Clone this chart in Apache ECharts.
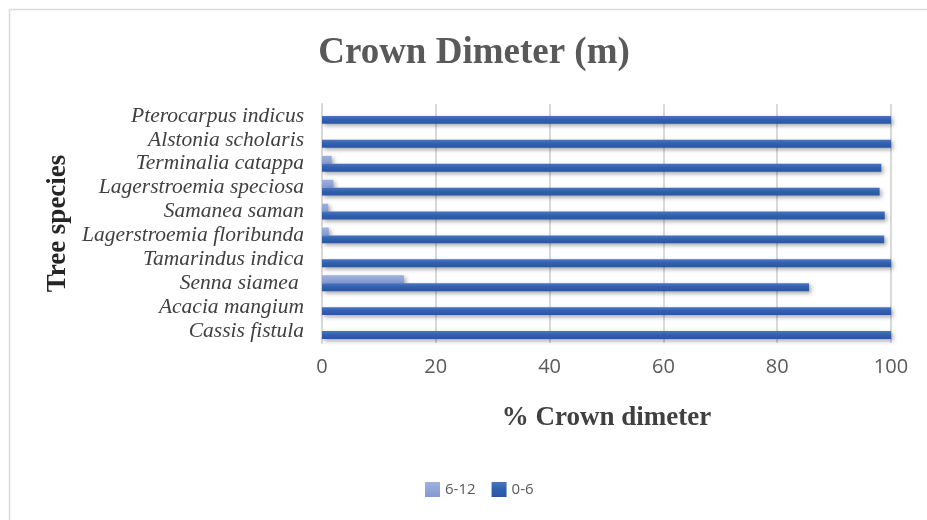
<!DOCTYPE html>
<html>
<head>
<meta charset="utf-8">
<script src="https://cdn.jsdelivr.net/npm/echarts@6/dist/echarts.min.js"></script>
<style>
html,body{margin:0;padding:0;background:#fff;}
#chart{width:927px;height:520px;}
</style>
</head>
<body>
<div id="chart"></div>
<script>
const categories = ['Cassis fistula','Acacia mangium','Senna siamea ','Tamarindus indica','Lagerstroemia floribunda','Samanea saman','Lagerstroemia speciosa','Terminalia catappa','Alstonia scholaris','Pterocarpus indicus'];
const values0to6 = [100, 100, 85.6, 100, 98.8, 98.9, 98, 98.3, 100, 100];
const values6to12 = [0, 0, 14.4, 0, 1.2, 1.1, 2, 1.7, 0, 0];
const xTicks = [0, 20, 40, 60, 80, 100];

const chart = echarts.init(document.getElementById('chart'), null, {renderer:'canvas'});
const serif = '"Liberation Serif", "Times New Roman", serif';
const sans = '"Open Sans", "Liberation Sans", sans-serif';
const shadow = {shadowColor:'rgba(0,0,0,0.35)', shadowBlur:4, shadowOffsetX:2, shadowOffsetY:2};
chart.setOption({
  animation:false,
  backgroundColor:'#fff',
  title:{text:'Crown Dimeter (m)', left:469, top:30, textAlign:'center',
    textStyle:{fontFamily:serif, fontWeight:'bold', fontSize:37, color:'#595959'}},
  graphic:[
    {type:'line', shape:{x1:9.5,y1:9.5,x2:927,y2:9.5}, style:{stroke:'#d9d9d9', lineWidth:1.5}},
    {type:'line', shape:{x1:9.5,y1:9.5,x2:9.5,y2:520}, style:{stroke:'#d9d9d9', lineWidth:1.5}}
  ],
  legend:{data:['6-12','0-6'], left:420, top:477, itemWidth:15, itemHeight:15, itemGap:16,
    icon:'rect', textStyle:{fontFamily:sans, fontSize:15, color:'#595959'}},
  grid:{left:322, right:36, top:104, bottom:177},
  xAxis:{type:'value', min:xTicks[0], max:xTicks[xTicks.length-1], interval:20,
    axisLine:{show:false}, axisTick:{show:false},
    splitLine:{lineStyle:{color:'#d9d9d9', width:2}},
    axisLabel:{fontFamily:sans, fontSize:20, color:'#595959', margin:14},
    name:'% Crown dimeter', nameLocation:'middle', nameGap:62,
    nameTextStyle:{fontFamily:serif, fontWeight:'bold', fontSize:27, color:'#404040'}},
  yAxis:{type:'category', data:categories,
    axisLine:{show:true, lineStyle:{color:'#d9d9d9', width:2}}, axisTick:{show:false},
    axisLabel:{interval:0, fontFamily:serif, fontStyle:'italic', fontSize:21.5, color:'#404040', margin:18},
    name:'Tree species', nameLocation:'middle', nameGap:248, nameRotate:90,
    nameTextStyle:{fontFamily:serif, fontWeight:'bold', fontSize:27, color:'#262626'}},
  series:[
    {name:'6-12', type:'bar', data:values6to12, barGap:'0%', barCategoryGap:'34%',
      itemStyle:Object.assign({color:new echarts.graphic.LinearGradient(0,0,0,1,[{offset:0,color:'#9eb2de'},{offset:1,color:'#8399d0'}])}, shadow)},
    {name:'0-6', type:'bar', data:values0to6, barGap:'0%', barCategoryGap:'34%',
      itemStyle:Object.assign({color:new echarts.graphic.LinearGradient(0,0,0,1,[{offset:0,color:'#4a74c0'},{offset:0.5,color:'#2f5fb0'},{offset:1,color:'#2a57a3'}])}, shadow)}
  ]
});
</script>
</body>
</html>
